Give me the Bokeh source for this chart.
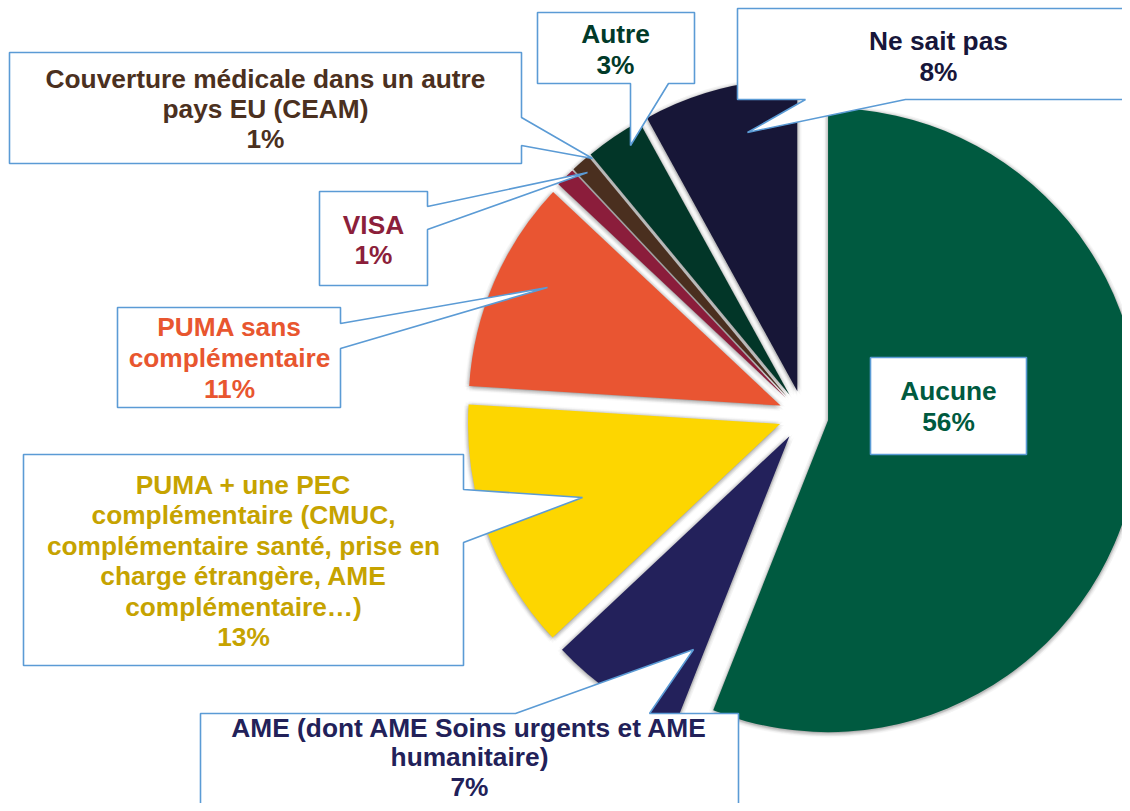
import math
from bokeh.plotting import figure
from bokeh.models import Range1d, ColumnDataSource
from bokeh.embed import file_html
from bokeh.resources import INLINE
from bokeh.core.properties import value

# ---------------- data ----------------
categories = [
    "Aucune",
    "AME (dont AME Soins urgents et AME\nhumanitaire)",
    "PUMA + une PEC\ncomplémentaire (CMUC,\ncomplémentaire santé, prise en\ncharge étrangère, AME\ncomplémentaire…)",
    "PUMA sans\ncomplémentaire",
    "VISA",
    "Couverture médicale dans un autre\npays EU (CEAM)",
    "Autre",
    "Ne sait pas",
]
values = [56, 7, 13, 11, 1, 1, 3, 8]
slice_colors = ["#005a40", "#23215b", "#fdd600", "#e95532",
                "#8b1d3b", "#4a2f1f", "#023628", "#171637"]
label_colors = ["#005a3f", "#222159", "#c6a300", "#e8562f",
                "#8c1f3b", "#4b3020", "#013a29", "#17163a"]

# ---------------- layout (picture pixel coords, y downward) ----------------
W, H = 1122, 803
CENTER = (803, 415)
RADIUS = 312
EXPLODE = 25
FONT_SIZE = "26.3px"
BORDER = "#5b9bd5"
TEXT_DY = -9

# box (x0, y0, x1, y1), pointer side, pointer base (a, b), tip, text centre x, first baseline, line step
callouts = [
    ((870, 357, 1026, 454), None, None, None, 948, 399, 31),
    ((200, 713, 738, 830), "top", (515, 649), (693, 649), 469, 736, 29.5),
    ((23, 454, 463, 665), "right", (489, 542), (582, 497), 243, 493, 30.5),
    ((117, 307, 340, 407), "right", (323, 348), (547, 287), 229, 335, 31),
    ((319, 191, 427, 285), "right", (206, 229), (587, 172), 373, 233, 30),
    ((9, 52, 521, 163), "right", (117, 145), (592, 158), 265, 87, 30),
    ((537, 12, 694, 83), "bottom", (630, 668), (630, 145), 615, 42, 31),
    ((737, 8, 1140, 99), "bottom", (805, 905), (747, 132), 938, 49, 31),
]


def Y(y):
    return H - y


p = figure(width=W, height=H, x_range=Range1d(0, W), y_range=Range1d(0, H),
           output_backend="svg", toolbar_location=None,
           x_axis_location=None, y_axis_location=None, min_border=0)
p.grid.visible = False
p.outline_line_color = None
p.background_fill_color = "white"
p.border_fill_color = "white"

# ---------------- pie geometry ----------------
total = float(sum(values))
cum = 0.0
wx, wy, sa, ea = [], [], [], []
for v in values:
    t1 = cum / total * 2 * math.pi
    t2 = (cum + v) / total * 2 * math.pi
    cum += v
    mid = (t1 + t2) / 2
    wx.append(CENTER[0] + EXPLODE * math.sin(mid))
    wy.append(Y(CENTER[1] - EXPLODE * math.cos(mid)))
    sa.append(math.pi / 2 - t1)
    ea.append(math.pi / 2 - t2)

# soft shadow (blur approximation)
sh = dict(x=[], y=[], s=[], e=[])
for d in (1.5, 3.0, 4.5):
    for k in range(8):
        a = k * math.pi / 4
        for i in range(len(values)):
            sh["x"].append(wx[i] + d * math.cos(a))
            sh["y"].append(wy[i] + d * math.sin(a) - 1)
            sh["s"].append(sa[i])
            sh["e"].append(ea[i])
p.wedge(x="x", y="y", radius=RADIUS, start_angle="s", end_angle="e",
        direction="clock", source=ColumnDataSource(sh),
        fill_color="black", fill_alpha=0.022, line_color=None)

p.wedge(x=wx, y=wy, radius=RADIUS, start_angle=sa, end_angle=ea,
        direction="clock", fill_color=slice_colors, line_color=None)

# ---------------- callouts ----------------
xs, ys = [], []
for box, side, base, tip, _, _, _ in callouts:
    x0, y0, x1, y1 = box
    pts = [(x0, y0)]
    if side == "top":
        pts += [(base[0], y0), tip, (base[1], y0)]
    pts.append((x1, y0))
    if side == "right":
        pts += [(x1, base[0]), tip, (x1, base[1])]
    pts.append((x1, y1))
    if side == "bottom":
        pts += [(base[1], y1), tip, (base[0], y1)]
    pts.append((x0, y1))
    xs.append([q[0] for q in pts])
    ys.append([Y(q[1]) for q in pts])
p.patches(xs=xs, ys=ys, fill_color="white", line_color=BORDER, line_width=1.6)

# ---------------- labels ----------------
tx, ty, tt, tc = [], [], [], []
for i, cat in enumerate(categories):
    lines = cat.split("\n") + ["%d%%" % values[i]]
    cx, b0, step = callouts[i][4], callouts[i][5], callouts[i][6]
    for j, line in enumerate(lines):
        tx.append(cx)
        ty.append(Y(b0 + TEXT_DY + j * step))
        tt.append(line)
        tc.append(label_colors[i])
p.text(x=tx, y=ty, text=tt, text_color=tc, text_align="center",
       text_baseline="alphabetic", text_font=value("Liberation Sans"),
       text_font_style="bold", text_font_size=FONT_SIZE)

open("out.html", "w").write(file_html(p, INLINE))
